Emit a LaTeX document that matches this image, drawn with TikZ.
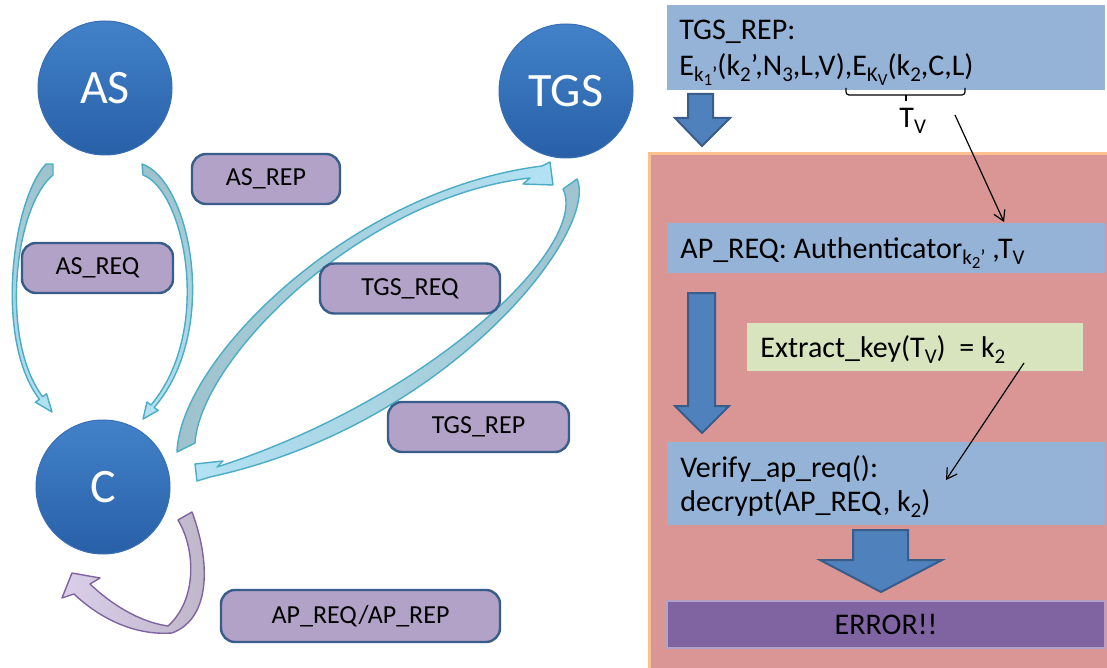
\documentclass[tikz,border=0pt]{standalone}
\usepackage{fontspec}
\setmainfont{Carlito}
\usetikzlibrary{arrows.meta}
\definecolor{circtop}{RGB}{66,130,200}
\definecolor{circbot}{RGB}{40,96,168}
\definecolor{circline}{RGB}{56,110,180}
\definecolor{lblfill}{RGB}{179,162,199}
\definecolor{lbldraw}{RGB}{56,93,138}
\definecolor{cyfill}{RGB}{178,226,244}
\definecolor{cygray}{RGB}{158,194,204}
\definecolor{cydraw}{RGB}{75,172,198}
\definecolor{apfill}{RGB}{218,206,234}
\definecolor{apgray}{RGB}{190,182,200}
\definecolor{apdraw}{RGB}{128,100,162}
\definecolor{boxblue}{RGB}{149,179,215}
\definecolor{panel}{RGB}{217,150,148}
\definecolor{panelline}{RGB}{250,192,144}
\definecolor{boxgreen}{RGB}{215,228,189}
\definecolor{errfill}{RGB}{128,100,162}
\definecolor{errline}{RGB}{179,162,199}
\definecolor{bigarrow}{RGB}{79,129,189}
\definecolor{bigarrowline}{RGB}{56,93,138}
\newcommand{\dn}[1]{\raisebox{-3pt}{\fontsize{10.5}{12}\selectfont #1}}
\newcommand{\ddn}[1]{\raisebox{-2pt}{\fontsize{8.5}{10}\selectfont #1}}
\tikzset{
  circ/.style={circle, minimum size=67pt, inner sep=0pt, top color=circtop, bottom color=circbot,
    draw=circline, line width=0.5pt, text=white, font=\fontsize{24}{28}\selectfont},
  lbl/.style={rectangle, rounded corners=7pt, fill=lblfill, draw=lbldraw, line width=1.2pt,
    minimum height=25pt, inner sep=0pt, font=\fontsize{13}{15}\selectfont},
  flat/.style={rectangle, inner sep=0pt, fill=boxblue},
  ptxt/.style={anchor=base west, inner sep=0pt, font=\fontsize{15}{17}\selectfont},
  cyarrow/.style={draw=cydraw, line width=0.7pt, line join=round},
  aparrow/.style={draw=apdraw, line width=0.7pt, line join=round},
  blockdown/.style={fill=bigarrow, draw=bigarrowline, line width=1pt, line join=miter},
  ptr/.style={-{Straight Barb[length=5pt,width=6pt]}, line width=0.6pt},
}
\begin{document}
\begin{tikzpicture}[x=0.5pt,y=-0.5pt]
\useasboundingbox (0,0) rectangle (1107,668);
\fill[white] (0,0) rectangle (1107,668);

% ---------- left part ----------
\node[circ] (as) at (105,88) {AS};
\node[circ] (tgs) at (566,91) {TGS};
\node[circ] (c) at (103,487) {C};

% AS_REQ arrow (AS -> C, left)
\path[cyarrow, top color=cygray, bottom color=cyfill]
  (46,164) .. controls (12,200) and (-6,340) .. (39.4,399.2) -- (35.4,402.2) -- (52,412)
  -- (46.6,393.8) -- (42.6,396.8) .. controls (-1,338) and (15,206) .. (53,175) -- (53,164) -- cycle;
% AS_REP arrow (AS -> C, right)
\path[cyarrow, top color=cygray, bottom color=cyfill]
  (142,164) .. controls (190,180) and (221,330) .. (154.2,407.4) -- (158.2,410.4) -- (143,419)
  -- (147,402) -- (151,405) .. controls (214,330) and (184,190) .. (143,175) -- cycle;
% TGS_REQ arrow (C -> TGS)
\path[cyarrow, left color=cygray, right color=cyfill]
  (177,452) .. controls (180,360) and (350,190) .. (542,166) -- (550,162) -- (553,185)
  -- (523,184) -- (530,178) .. controls (360,197) and (200,360) .. (195,443) -- cycle;
% TGS_REP arrow (TGS -> C)
\path[cyarrow, left color=cyfill, right color=cygray]
  (577,179) .. controls (600,230) and (450,425) .. (210,477) -- (197,481) -- (195,464)
  -- (223,461) -- (217,467) .. controls (432,398) and (590,245) .. (563,189) -- cycle;
% AP arrow (C -> C)
\path[aparrow, left color=apfill, right color=apgray]
  (178,520) -- (192,512) .. controls (210,560) and (212,618) .. (172,633)
  .. controls (130,636) and (95,614) .. (74,594) -- (62,598) -- (72,573) -- (100,578) -- (90,584)
  .. controls (112,605) and (140,622) .. (168,626) .. controls (197,600) and (196,550) .. (178,520) -- cycle;

\node[lbl, minimum width=74pt] (asrep) at (266,179) {AS\_REP};
\node[lbl, minimum width=75.5pt] (asreq) at (97.5,268) {AS\_REQ};
\node[lbl, minimum width=90pt] (tgsreq) at (410,288.5) {TGS\_REQ};
\node[lbl, minimum width=90.5pt] (tgsrep) at (478.5,427) {TGS\_REP};
\node[lbl, minimum width=139.5pt, minimum height=26pt] (aprr) at (360.5,616) {AP\_REQ/AP\_REP};

% ---------- right part ----------
\path[fill=panel, draw=panelline, line width=1.5pt] (649,154) rectangle (1115,675);

\node[flat, minimum width=219pt, minimum height=42.5pt] (topbox) at (886,47.5) {};
\node[ptxt] (t1) at (679,40) {TGS\_REP:};
\node[ptxt] (t2) at (679,76) {E\dn{k\ddn{1}’}(k\dn{2}’,N\dn{3},L,V),E\dn{K\ddn{V}}(k\dn{2},C,L)};
\draw[line width=0.6pt, rounded corners=1.5pt] (846,88) -- (846,95) -- (965,95) -- (965,88);
\draw[line width=0.6pt] (906,95) -- (906,101);
\node[ptxt] (tv) at (899,128) {T\dn{V}};

\path[blockdown] (688,94) -- (713,94) -- (713,118) -- (730,118) -- (702,146) -- (675,118) -- (688,118) -- cycle;

\node[flat, minimum width=219pt, minimum height=25pt] (apbox) at (886,248) {};
\node[ptxt] (t3) at (680,258) {AP\_REQ: Authenticator\dn{k\ddn{2}’} ,T\dn{V}};

\path[blockdown] (688,293) -- (715,293) -- (715,406) -- (729,406) -- (702,433) -- (675,406) -- (688,406) -- cycle;

\node[flat, fill=boxgreen, minimum width=168pt, minimum height=24pt] (exbox) at (915,347) {};
\node[ptxt] (t4) at (760,357) {Extract\_key(T\dn{V})\ \ = k\dn{2}};

\node[flat, minimum width=219pt, minimum height=41.5pt] (vbox) at (886,483.5) {};
\node[ptxt] (t5) at (680,477) {Verify\_ap\_req():};
\node[ptxt] (t6) at (680,511) {decrypt(AP\_REQ, k\dn{2})};

\path[blockdown] (853,530) -- (908,530) -- (908,560) -- (942,560) -- (881,592) -- (820,560) -- (853,560) -- cycle;

\node[flat, fill=errfill, draw=errline, line width=0.6pt, minimum width=219pt, minimum height=23.5pt,
  font=\fontsize{15}{17}\selectfont] (err) at (886,624.5) {ERROR!!};

\coordinate (a1s) at (955,115);
\coordinate (a1e) at (1004,222);
\draw[ptr] (a1s) -- (a1e);
\coordinate (a2s) at (1024,363);
\coordinate (a2e) at (946,480);
\draw[ptr] (a2s) -- (a2e);
\end{tikzpicture}
\end{document}
